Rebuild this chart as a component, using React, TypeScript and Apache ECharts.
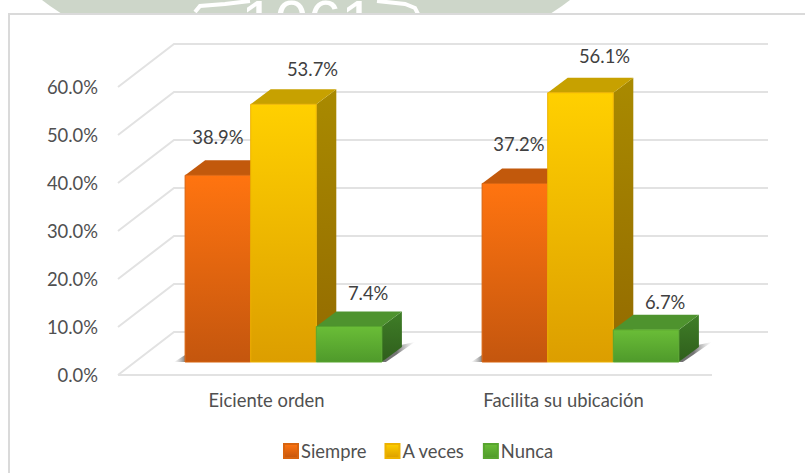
import React, { useEffect, useRef } from "react";
import * as echarts from "echarts";

const categories = ["Eiciente orden", "Facilita su ubicación"];
const siempre = [38.9, 37.2];
const aVeces = [53.7, 56.1];
const nunca = [7.4, 6.7];
const tickValues = [0, 10, 20, 30, 40, 50, 60];

const FONT = "Lato";
const FONT_SIZE = 18.4;
const grad = (a: string, b: string) =>
  new echarts.graphic.LinearGradient(0, 0, 0, 1, [
    { offset: 0, color: a },
    { offset: 1, color: b },
  ]);

const FLOOR = { dx: 56, dy: -43 };
const BAR_SHIFT = { dx: 17, dy: -13 };
const DEPTH = { dx: 20, dy: -15 };
const BAR_W = 65.6;

const looks = [
  { name: "Siempre", values: siempre, front: ["#FF7410", "#C4560E"], top: "#C2590C", side: ["#A8500C", "#8A420A"], edge: "#D8640F", slot: -1, nudge: [[0, 38], [4, 39]] },
  { name: "A veces", values: aVeces, front: ["#FFD000", "#DC9E00"], top: "#C7A100", side: ["#A98A00", "#936A00"], edge: "#EDB200", slot: 0, nudge: [[29, 35], [24, 37]] },
  { name: "Nunca", values: nunca, front: ["#6ABD37", "#4F9A2B"], top: "#4E932E", side: ["#3F7E27", "#2F5E1C"], edge: "#58A52F", slot: 1, nudge: [[19, 33], [19, 28]] },
];

function poly(points: number[][], fill: any, z2 = 0) {
  return { type: "polygon", z2, shape: { points }, style: { fill, stroke: "none" } };
}

function renderWall(params: any, api: any) {
  const y = api.coord([0, api.value(0)])[1];
  const x0 = params.coordSys.x;
  const x1 = x0 + params.coordSys.width;
  const children: any[] = [
    {
      type: "polyline",
      shape: { points: [[x0, y], [x0 + FLOOR.dx, y + FLOOR.dy], [x1 + FLOOR.dx, y + FLOOR.dy]] },
      style: { stroke: "#E2E2E2", lineWidth: 2, fill: "none" },
    },
  ];
  if (api.value(0) === 0) {
    children.push({
      type: "line",
      shape: { x1: x0, y1: y, x2: x1, y2: y },
      style: { stroke: "#E2E2E2", lineWidth: 2 },
    });
  }
  return { type: "group", children };
}

function renderShadow(params: any, api: any) {
  const c = api.coord([api.value(0), 0]);
  const cx = c[0] + BAR_SHIFT.dx;
  const base = c[1] + BAR_SHIFT.dy;
  const left = cx - BAR_W * 1.5;
  const right = cx + BAR_W * 1.5;
  return {
    type: "group",
    children: [
      poly(
        [[left - 11, base], [left, base - 7], [left, base]],
        new echarts.graphic.LinearGradient(1, 0, 0, 0, [
          { offset: 0, color: "rgba(80,80,80,0.7)" },
          { offset: 1, color: "rgba(150,150,150,0.02)" },
        ])
      ),
      poly(
        [[right, base], [right + 19, base - 17], [right + 33, base - 20], [right + 4, base]],
        new echarts.graphic.LinearGradient(0, 0, 1, 0, [
          { offset: 0.45, color: "rgba(70,70,70,0.75)" },
          { offset: 1, color: "rgba(170,170,170,0.02)" },
        ])
      ),
    ],
  };
}

function makeBar(look: (typeof looks)[number]) {
  return (params: any, api: any) => {
    const v = api.value(1);
    const i = api.value(0);
    const baseP = api.coord([i, 0]);
    const topP = api.coord([i, v]);
    const l = baseP[0] + BAR_SHIFT.dx + look.slot * BAR_W - BAR_W / 2;
    const r = l + BAR_W;
    const b = baseP[1] + BAR_SHIFT.dy;
    const t = topP[1] + BAR_SHIFT.dy;
    const { dx, dy } = DEPTH;
    const n = look.nudge[params.dataIndex];
    return {
      type: "group",
      children: [
        poly([[r, t], [r + dx, t + dy], [r + dx, b + dy], [r, b]], grad(look.side[0], look.side[1])),
        poly([[l, t], [l + dx, t + dy], [r + dx, t + dy], [r, t]], look.top),
        {
          type: "rect",
          shape: { x: l, y: t, width: BAR_W, height: b - t },
          style: { fill: grad(look.front[0], look.front[1]), stroke: look.edge, lineWidth: 1 },
        },
        {
          type: "text",
          x: (l + r) / 2 + n[0],
          y: t - n[1],
          style: {
            text: v.toFixed(1) + "%",
            fill: "#404040",
            font: `${FONT_SIZE}px ${FONT}`,
            align: "center",
            verticalAlign: "middle",
          },
        },
      ],
    };
  };
}

export default function App() {
  const ref = useRef<HTMLDivElement>(null);
  useEffect(() => {
    document.body.style.margin = "0";
    const chart = echarts.init(ref.current!, undefined, { renderer: "svg" });
    chart.setOption({
      animation: false,
      backgroundColor: "#FFFFFF",
      grid: { left: 118, right: 93, top: 87, bottom: 98, containLabel: false },
      graphic: {
        elements: [
          { type: "polygon", z: -10, shape: { points: [[42, 0], [50, 6], [62, 14], [550, 14], [562, 6], [570, 0]] }, style: { fill: "#CDD6C9" } },
          { type: "text", z: -10, x: 308, y: -9, style: { text: "1061", fill: "#FFFFFF", font: "60px 'Liberation Sans'", align: "center", verticalAlign: "top" } },
          { type: "polyline", z: -10, shape: { points: [[195, 12], [200, 6], [225, 4], [250, 1]] }, style: { stroke: "#FFFFFF", lineWidth: 4, fill: "none" } },
          { type: "polyline", z: -10, shape: { points: [[377, 1], [405, 4], [415, 8], [418, 14]] }, style: { stroke: "#FFFFFF", lineWidth: 4, fill: "none" } },
          { type: "rect", z: -9, shape: { x: 9, y: 14, width: 820, height: 480 }, style: { fill: "#FFFFFF", stroke: "#DADADA", lineWidth: 2 } },
        ],
      },
      legend: {
        left: 283,
        top: 442,
        padding: 0,
        itemWidth: 14,
        itemHeight: 14,
        itemGap: 18,
        icon: "rect",
        data: looks.map((k) => k.name),
        textStyle: { fontFamily: FONT, fontSize: FONT_SIZE, color: "#505050", padding: [0, 0, 0, -2] },
      },
      xAxis: {
        type: "category",
        data: categories,
        axisLine: { show: false },
        axisTick: { show: false },
        axisLabel: { margin: 16, fontFamily: FONT, fontSize: FONT_SIZE, color: "#505050" },
      },
      yAxis: {
        type: "value",
        min: 0,
        max: 60,
        interval: 10,
        splitLine: { show: false },
        axisLine: { show: false },
        axisTick: { show: false },
        axisLabel: { margin: 20, fontFamily: FONT, fontSize: FONT_SIZE, color: "#505050", formatter: (v: number) => v.toFixed(1) + "%" },
      },
      series: [
        {
          type: "custom",
          name: "wall",
          z: 1,
          silent: true,
          clip: false,
          renderItem: renderWall,
          encode: { y: 0 },
          data: tickValues.map((v) => [v]),
        },
        {
          type: "custom",
          name: "shadow",
          z: 2,
          silent: true,
          clip: false,
          renderItem: renderShadow,
          encode: { x: 0 },
          data: categories.map((_, i) => [i]),
        },
        ...looks.map((k, n) => ({
          type: "custom",
          name: k.name,
          z: 3 + n,
          clip: false,
          itemStyle: { color: grad(k.front[0], k.front[1]), borderColor: k.edge, borderWidth: 1 },
          renderItem: makeBar(k),
          encode: { x: 0, y: 1 },
          data: k.values.map((v, i) => [i, v]),
        })),
      ],
    });
    return () => chart.dispose();
  }, []);
  return <div ref={ref} style={{ width: 805, height: 473 }} />;
}
